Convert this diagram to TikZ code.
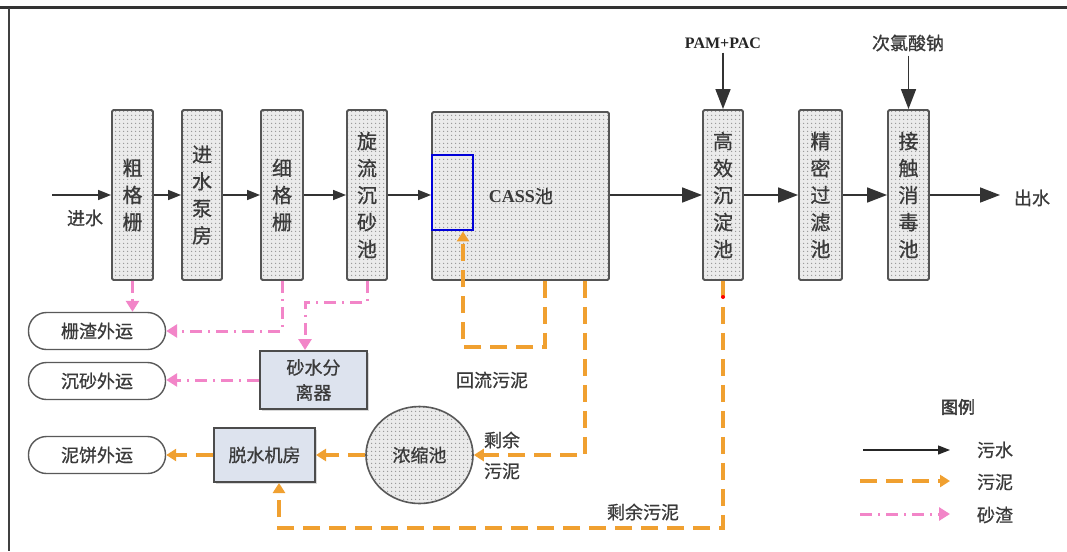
\documentclass[tikz,border=0pt]{standalone}
\usepackage{fontspec}
\setmainfont{Noto Sans CJK SC}[FakeBold=0.8]
\newfontfamily\serifb{Liberation Serif}
\newfontfamily\cjkbold[FakeBold=2.5]{Noto Sans CJK SC}
\usetikzlibrary{arrows.meta,patterns,patterns.meta,shadows,calc,shapes.geometric}
\definecolor{org}{HTML}{F0A030}
\definecolor{pnk}{HTML}{F285C8}
\definecolor{boxbd}{HTML}{555555}
\definecolor{txt}{HTML}{3A3A3A}
\definecolor{sepfill}{HTML}{DDE3EE}
\tikzdeclarepattern{
  name=bigdots,
  type=uncolored,
  bounding box={(-2pt,-2pt) and (2pt,2pt)},
  tile size={(4pt,4pt)},
  code={\fill (0pt,0pt) circle (0.8pt);}
}
\begin{document}
\begin{tikzpicture}[x=1pt,y=-1pt,
  dotted fill/.style={preaction={fill=gray!16}, pattern=bigdots, pattern color=gray!85},
  tank/.style={draw=boxbd, line width=1.9pt, rounded corners=1.5pt, dotted fill,
    minimum width=41pt, minimum height=170pt, inner sep=0pt, align=center,
    text=txt, font=\fontsize{20}{27}\selectfont},
  outbox/.style={draw=gray!70!black, line width=1.4pt, rounded corners=18pt,
    minimum width=137pt, minimum height=37pt, inner sep=0pt,
    text=txt, font=\fontsize{18}{20}\selectfont},
  unitbox/.style={draw=black!70, line width=2pt, fill=sepfill,
    drop shadow={shadow xshift=2pt, shadow yshift=-2pt, fill=gray!60},
    inner sep=0pt, align=center, text=txt, font=\fontsize{18}{25}\selectfont},
  lbl/.style={text=txt, inner sep=0pt, align=center, font=\fontsize{18}{30}\selectfont},
  water/.style={draw=black!80, line width=1.6pt, -{Triangle[length=13pt,width=10pt]}},
  bigwater/.style={draw=black!80, line width=1.6pt, -{Triangle[length=20pt,width=15pt]}},
  sludge/.style={draw=org, line width=4.5pt, dash pattern=on 17pt off 9pt,
    -{Triangle[length=10pt,width=12pt]}},
  grit/.style={draw=pnk, line width=3pt, dash pattern=on 12pt off 6pt on 2pt off 6pt,
    -{Triangle[length=11pt,width=13pt]}}
]
\useasboundingbox (0,0) rectangle (1067,551);
\fill[white] (0,0) rectangle (1067,551);
% frame
\draw[line width=3pt, black!80] (0,8) -- (1067,8);
\draw[line width=2pt, black!75] (9,8) -- (9,551);

% main tanks
\node[tank] (b1) at (132.5,195) {粗\\格\\栅};
\node[tank, minimum width=40pt] (b2) at (202,195) {进\\水\\泵\\房};
\node[tank, minimum width=42pt] (b3) at (282,195) {细\\格\\栅};
\node[tank, minimum width=40pt] (b4) at (367,195) {旋\\流\\沉\\砂\\池};
\node[tank, minimum width=177pt, minimum height=168pt] (cass) at (520.5,196) {};
\node[draw=blue!85!black, line width=2.8pt, minimum width=41pt, minimum height=75pt, inner sep=0pt] (blue) at (452.5,192.5) {};
\node[text=txt, inner sep=0pt, font=\fontsize{18}{22}\selectfont] (casst) at (521,196) {{\serifb\bfseries CASS}池};
\node[tank, minimum width=40pt] (b5) at (723,195) {高\\效\\沉\\淀\\池};
\node[tank, minimum width=43pt] (b6) at (820.5,195) {精\\密\\过\\滤\\池};
\node[tank] (b7) at (908.5,195) {接\\触\\消\\毒\\池};

% chemicals
\node[inner sep=0pt, text=black!85, font=\serifb\bfseries\fontsize{16}{18}\selectfont] (pam) at (723,43) {PAM+PAC};
\node[lbl] (naclo) at (908,43) {次氯酸钠};
\draw[bigwater] (b5.north |- pam.south) ++(0,4) -- (b5.north);
\draw[bigwater] (b7.north |- naclo.south) ++(0,4) -- (b7.north);

% water line
\coordinate (in) at (52,195);
\coordinate (out) at (1000,195);
\node[lbl] (inl) at (85,218) {进水};
\node[lbl] (outl) at (1032,198) {出水};
\draw[water] (in) -- (b1.west);
\draw[water] (b1.east) -- (b2.west);
\draw[water] (b2.east) -- (b3.west);
\draw[water] (b3.east) -- (b4.west);
\draw[water] (b4.east) -- (b4.east -| cass.west);
\draw[bigwater] (cass.east |- b5.west) -- (b5.west);
\draw[bigwater] (b5.east) -- (b6.west);
\draw[bigwater] (b6.east) -- (b7.west);
\draw[bigwater] (b7.east) -- (out);

% lower units
\node[outbox] (o1) at (97,331) {栅渣外运};
\node[outbox] (o2) at (97,381) {沉砂外运};
\node[outbox] (o3) at (97,455) {泥饼外运};
\node[unitbox, minimum width=107pt, minimum height=58pt] (sep) at (313.5,380) {砂水分\\离器};
\node[unitbox, minimum width=101pt, minimum height=54pt] (dew) at (264.5,455) {脱水机房};
\node[ellipse, draw=gray!70!black, line width=1.6pt, dotted fill,
  minimum width=107pt, minimum height=97pt, inner sep=0pt, text=txt, font=\fontsize{18}{22}\selectfont] (thick) at (419.5,455) {浓缩池};

% grit lines
\draw[grit] (b1.south) -- (b1.south |- o1.north);
\draw[grit] (b3.south) |- (o1.east);
\coordinate (g1) at (305,302);
\draw[grit] (b4.south) |- (g1) -- (g1 |- sep.north);
\draw[grit] (sep.west) -- (sep.west -| o2.east);

% sludge lines
\coordinate (r1) at (545,347);
\coordinate (r2) at (463,347);
\draw[sludge] (r1 |- cass.south) -- (r1) -- (r2) -- (r2 |- blue.south);
\coordinate (e1) at (585,455);
\draw[sludge] (e1 |- cass.south) -- (e1) -- (thick.east);
\coordinate (e2) at (723,528);
\coordinate (e3) at (279,528);
\draw[sludge] (b5.south) -- (e2) -- (e3) -- (e3 |- dew.south);
\draw[sludge] (thick.west) -- (dew.east);
\draw[sludge] (dew.west) -- (o3.east);
\fill[red] (723,297) circle (2pt);

% sludge labels
\node[lbl] (hl) at (492,380) {回流污泥};
\node[lbl] (sy1) at (502,440) {剩余};
\node[lbl] (sy2) at (502,471) {污泥};
\node[lbl] (sy3) at (643,512) {剩余污泥};

% legend
\node[lbl, font=\cjkbold\fontsize{17}{20}\selectfont] (leg) at (958,407) {图例};
\coordinate (l1a) at (863,450); \coordinate (l1b) at (950,450);
\coordinate (l2a) at (860,481); \coordinate (l2b) at (950,481);
\coordinate (l3a) at (860,514); \coordinate (l3b) at (950,514);
\draw[draw=black!85, line width=1.3pt, -{Triangle[length=12pt,width=9pt]}] (l1a) -- (l1b);
\draw[sludge] (l2a) -- (l2b);
\draw[grit] (l3a) -- (l3b);
\node[lbl] (lt1) at (995,450) {污水};
\node[lbl] (lt2) at (995,482) {污泥};
\node[lbl] (lt3) at (995,515) {砂渣};
\end{tikzpicture}
\end{document}
